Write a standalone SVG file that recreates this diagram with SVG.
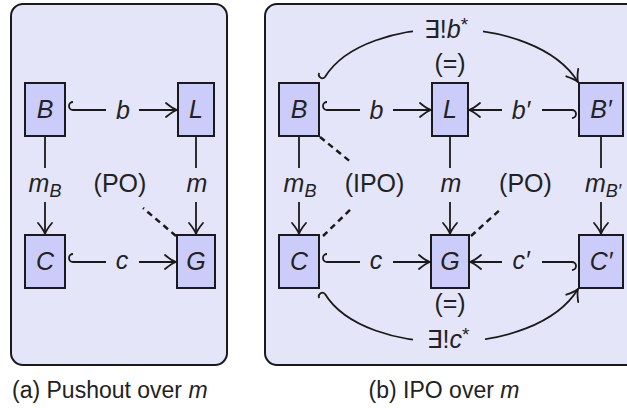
<svg xmlns="http://www.w3.org/2000/svg" width="627" height="408" viewBox="0 0 627 408">
<defs>
<style>
.panel{fill:#E5E5FA;stroke:#1a1a1a;stroke-width:2}
.node rect{fill:#CCCCFB;stroke:#1a1a1a;stroke-width:2}
text{font-family:"Liberation Sans","DejaVu Sans",sans-serif;fill:#222}
.nt{font-size:25px;font-style:italic;text-anchor:middle}
.lb{font-size:25px;text-anchor:middle}
.it{font-style:italic}
.sub{font-size:18px}
.sup{font-size:19px}
.bg{fill:#E5E5FA}
.ar{fill:none;stroke:#1a1a1a;stroke-width:1.8;marker-end:url(#ah)}
.ds{fill:none;stroke:#1a1a1a;stroke-width:2.5;stroke-dasharray:6 4.5}
.cap{font-size:23px}
</style>
<marker id="ah" viewBox="-13 -9 15 18" refX="0" refY="0" markerWidth="15" markerHeight="18" markerUnits="userSpaceOnUse" orient="auto" overflow="visible">
<path d="M-11,-7 Q-4.5,-1.5 0,0 Q-4.5,1.5 -11,7" fill="none" stroke="#1a1a1a" stroke-width="1.8" stroke-linecap="round" stroke-linejoin="round"/>
</marker>
</defs>

<g id="panels">
<rect id="panel-a" class="panel" x="11" y="4" width="216" height="361" rx="12"/>
<rect id="panel-b" class="panel" x="265" y="4" width="380" height="361" rx="12"/>
</g>

<g id="connectors">
<!-- panel a -->
<path class="ar" d="M73,102 A4,4 0 0 0 73,110 L177,110"/>
<path class="ar" d="M73,254 A4,4 0 0 0 73,262 L176,262"/>
<path class="ar" d="M45,136 L45,234"/>
<path class="ar" d="M196,136 L196,234"/>
<path class="ds" d="M176,236 L143,208"/>
<!-- panel b -->
<path class="ar" d="M327,102 A4,4 0 0 0 327,110 L431,110"/>
<path class="ar" d="M572,118 A4,4 0 0 0 572,110 L469,110"/>
<path class="ar" d="M327,254 A4,4 0 0 0 327,262 L430,262"/>
<path class="ar" d="M572,270 A4,4 0 0 0 572,262 L470,262"/>
<path class="ar" d="M299,136 L299,234"/>
<path class="ar" d="M450,136 L450,234"/>
<path class="ar" d="M601,136 L601,234"/>
<path class="ds" d="M320,137 L352,163"/>
<path class="ds" d="M323,236 L352,208"/>
<path class="ds" d="M471,236 L502,208"/>
<path class="ar" d="M319.3,73 A3.5,3.5 0 0 0 325,77 C365,12 535,12 578,82"/>
<path class="ar" d="M319.3,298 A3.5,3.5 0 0 1 325,294 C365,359 535,359 578,289"/>
</g>

<g id="labels">
<rect class="bg" x="106" y="97" width="33" height="26"/>
<text class="lb it" x="123" y="119">b</text>
<rect class="bg" x="106" y="249" width="33" height="26"/>
<text class="lb it" x="122" y="269">c</text>
<rect class="bg" x="27" y="168" width="37" height="34"/>
<text class="lb" x="45" y="192"><tspan class="it">m</tspan><tspan class="it sub" dy="5">B</tspan></text>
<rect class="bg" x="183" y="168" width="27" height="34"/>
<text class="lb it" x="197" y="192">m</text>
<text class="lb" x="120" y="192">(PO)</text>

<rect class="bg" x="360" y="97" width="33" height="26"/>
<text class="lb it" x="376.5" y="119">b</text>
<rect class="bg" x="502" y="97" width="40" height="26"/>
<text class="lb it" x="521" y="119">b′</text>
<rect class="bg" x="360" y="249" width="33" height="26"/>
<text class="lb it" x="376" y="269">c</text>
<rect class="bg" x="502" y="249" width="40" height="26"/>
<text class="lb it" x="521" y="269">c′</text>
<rect class="bg" x="281" y="168" width="37" height="34"/>
<text class="lb" x="300" y="192"><tspan class="it">m</tspan><tspan class="it sub" dy="5">B</tspan></text>
<rect class="bg" x="437" y="168" width="27" height="34"/>
<text class="lb it" x="451" y="192">m</text>
<rect class="bg" x="581" y="168" width="43" height="34"/>
<text class="lb" x="603" y="192"><tspan class="it">m</tspan><tspan class="it sub" dy="5">B′</tspan></text>
<text class="lb" x="374.5" y="192">(IPO)</text>
<text class="lb" x="525.5" y="192">(PO)</text>
<text class="lb" x="450" y="72">(=)</text>
<text class="lb" x="450" y="312">(=)</text>
<rect class="bg" x="413" y="14" width="70" height="30"/>
<text class="lb" x="446" y="38">∃!<tspan class="it">b</tspan><tspan class="sup" dy="-7">*</tspan></text>
<rect class="bg" x="413" y="327" width="72" height="30"/>
<text class="lb" x="448" y="348">∃!<tspan class="it">c</tspan><tspan class="sup" dy="-7">*</tspan></text>
</g>

<g id="a-B" class="node"><rect x="25" y="83" width="40" height="53"/><text class="nt" x="45" y="118">B</text></g>
<g id="a-L" class="node"><rect x="178" y="83" width="36" height="53"/><text class="nt" x="196" y="118">L</text></g>
<g id="a-C" class="node"><rect x="25" y="235" width="40" height="53"/><text class="nt" x="45" y="270">C</text></g>
<g id="a-G" class="node"><rect x="177" y="235" width="38" height="53"/><text class="nt" x="196" y="270">G</text></g>

<g id="b-B" class="node"><rect x="279" y="83" width="40" height="53"/><text class="nt" x="299" y="118">B</text></g>
<g id="b-L" class="node"><rect x="432" y="83" width="36" height="53"/><text class="nt" x="450" y="118">L</text></g>
<g id="b-Bp" class="node"><rect x="579" y="83" width="44" height="53"/><text class="nt" x="601" y="118">B′</text></g>
<g id="b-C" class="node"><rect x="279" y="235" width="40" height="53"/><text class="nt" x="299" y="270">C</text></g>
<g id="b-G" class="node"><rect x="431" y="235" width="38" height="53"/><text class="nt" x="450" y="270">G</text></g>
<g id="b-Cp" class="node"><rect x="579" y="235" width="44" height="53"/><text class="nt" x="601" y="270">C′</text></g>

<g id="captions">
<text class="cap" x="12" y="398">(a) Pushout over <tspan class="it">m</tspan></text>
<text class="cap" x="444" y="398" text-anchor="middle">(b) IPO over <tspan class="it">m</tspan></text>
</g>
</svg>
